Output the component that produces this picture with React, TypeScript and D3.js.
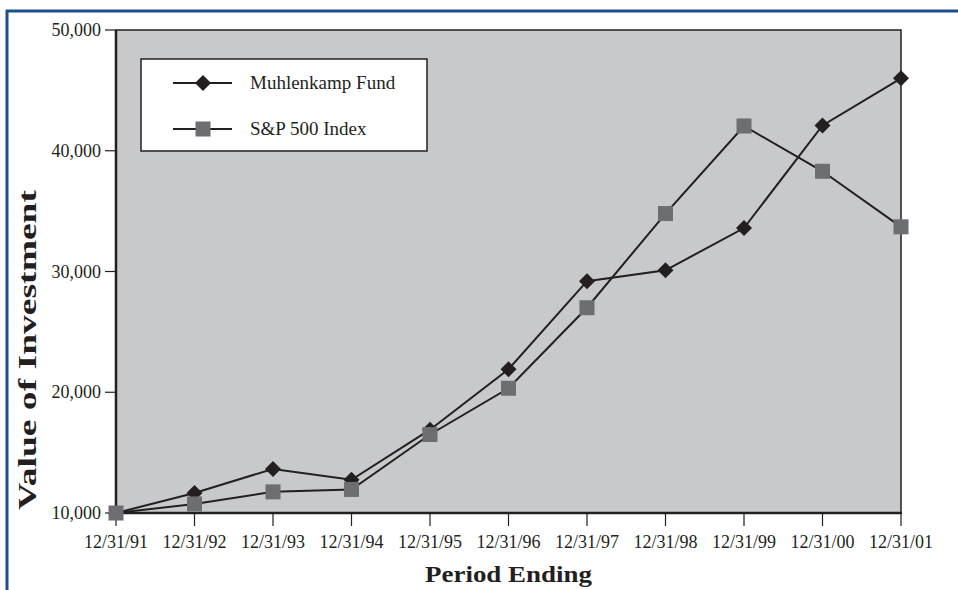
import React from "react";
import * as d3 from "d3";

const periods = ["12/31/91","12/31/92","12/31/93","12/31/94","12/31/95","12/31/96","12/31/97","12/31/98","12/31/99","12/31/00","12/31/01"];
const muhlenkamp = [10000, 11650, 13650, 12750, 16900, 21900, 29200, 30100, 33600, 42100, 46000];
const sp500 = [10000, 10750, 11750, 11950, 16500, 20330, 27000, 34800, 42050, 38300, 33700];
const yTicks = [10000, 20000, 30000, 40000, 50000];
const seriesNames = ["Muhlenkamp Fund", "S&P 500 Index"];

const W = 958, H = 590;
const plot = { left: 116, right: 901, top: 30, bottom: 513 };
const FONT = "Liberation Serif, Times New Roman, Times, serif";
const INK = "#231f20";
const SQ = "#6d6e71";

export default function App() {
  const x = d3.scalePoint<string>().domain(periods).range([plot.left, plot.right]);
  const y = d3.scaleLinear().domain([10000, 50000]).range([plot.bottom, plot.top]);
  const line = d3.line<number>().x((_, i) => x(periods[i]) as number).y((d) => y(d));
  const fmt = d3.format(",");
  const diamond = (cx: number, cy: number, r = 8) => `M${cx},${cy - r}L${cx + r},${cy}L${cx},${cy + r}L${cx - r},${cy}Z`;
  const sq = 15;
  const ts = { fontFamily: FONT };

  return (
    <svg width={W} height={H} style={{ position: "absolute", left: 0, top: 0, background: "#fff", fontFamily: FONT }}>
      {/* blue frame */}
      <line x1={6} x2={W} y1={11} y2={11} stroke="#1d4f8e" strokeWidth={3} />
      <line x1={7} x2={7} y1={10} y2={H} stroke="#1d4f8e" strokeWidth={3} />

      {/* plot area */}
      <rect x={plot.left} y={plot.top} width={plot.right - plot.left} height={plot.bottom - plot.top} fill="#c8c9cb" stroke={INK} strokeWidth={1.5} />
      <line x1={plot.left} x2={plot.left} y1={plot.top} y2={plot.bottom} stroke={INK} strokeWidth={2.5} />
      <line x1={plot.left} x2={plot.right + 1} y1={plot.bottom} y2={plot.bottom} stroke={INK} strokeWidth={2.5} />

      {/* y axis */}
      {yTicks.map((t) => (
        <g key={t}>
          <line x1={105} x2={plot.left} y1={y(t)} y2={y(t)} stroke={INK} strokeWidth={1.2} />
          <text x={101} y={y(t) + 6} textAnchor="end" fontSize={18} fill={INK} style={ts}>{fmt(t)}</text>
        </g>
      ))}

      {/* x axis */}
      {periods.map((p) => (
        <g key={p}>
          <line x1={x(p)} x2={x(p)} y1={plot.bottom} y2={526} stroke={INK} strokeWidth={1.2} />
          <text x={x(p)} y={548} textAnchor="middle" fontSize={18} fill={INK} style={ts}>{p}</text>
        </g>
      ))}

      {/* axis titles */}
      <text x={508.5} y={582} textAnchor="middle" fontSize={23} fontWeight="bold" fill={INK} style={ts} textLength={167} lengthAdjust="spacingAndGlyphs">Period Ending</text>
      <text transform={`translate(36,350) rotate(-90)`} textAnchor="middle" fontSize={25} fontWeight="bold" fill={INK} style={ts} textLength={320} lengthAdjust="spacingAndGlyphs">Value of Investment</text>

      {/* lines */}
      <path d={line(muhlenkamp) || ""} fill="none" stroke={INK} strokeWidth={2} />
      <path d={line(sp500) || ""} fill="none" stroke={INK} strokeWidth={2} />

      {muhlenkamp.map((v, i) => (
        <path key={"m" + i} d={diamond(x(periods[i]) as number, y(v))} fill={INK} />
      ))}
      {sp500.map((v, i) => (
        <rect key={"s" + i} x={(x(periods[i]) as number) - sq / 2} y={y(v) - sq / 2} width={sq} height={sq} fill={SQ} />
      ))}

      {/* legend */}
      <rect x={141} y={59} width={286} height={92} fill="#fff" stroke={INK} strokeWidth={1.5} />
      <line x1={173} x2={232} y1={83} y2={83} stroke={INK} strokeWidth={2} />
      <path d={diamond(203, 83)} fill={INK} />
      <text x={250} y={89} fontSize={19} fill={INK} style={ts}>{seriesNames[0]}</text>
      <line x1={173} x2={232} y1={129} y2={129} stroke={INK} strokeWidth={2} />
      <rect x={203 - sq / 2} y={129 - sq / 2} width={sq} height={sq} fill={SQ} />
      <text x={250} y={135} fontSize={19} fill={INK} style={ts}>{seriesNames[1]}</text>
    </svg>
  );
}
